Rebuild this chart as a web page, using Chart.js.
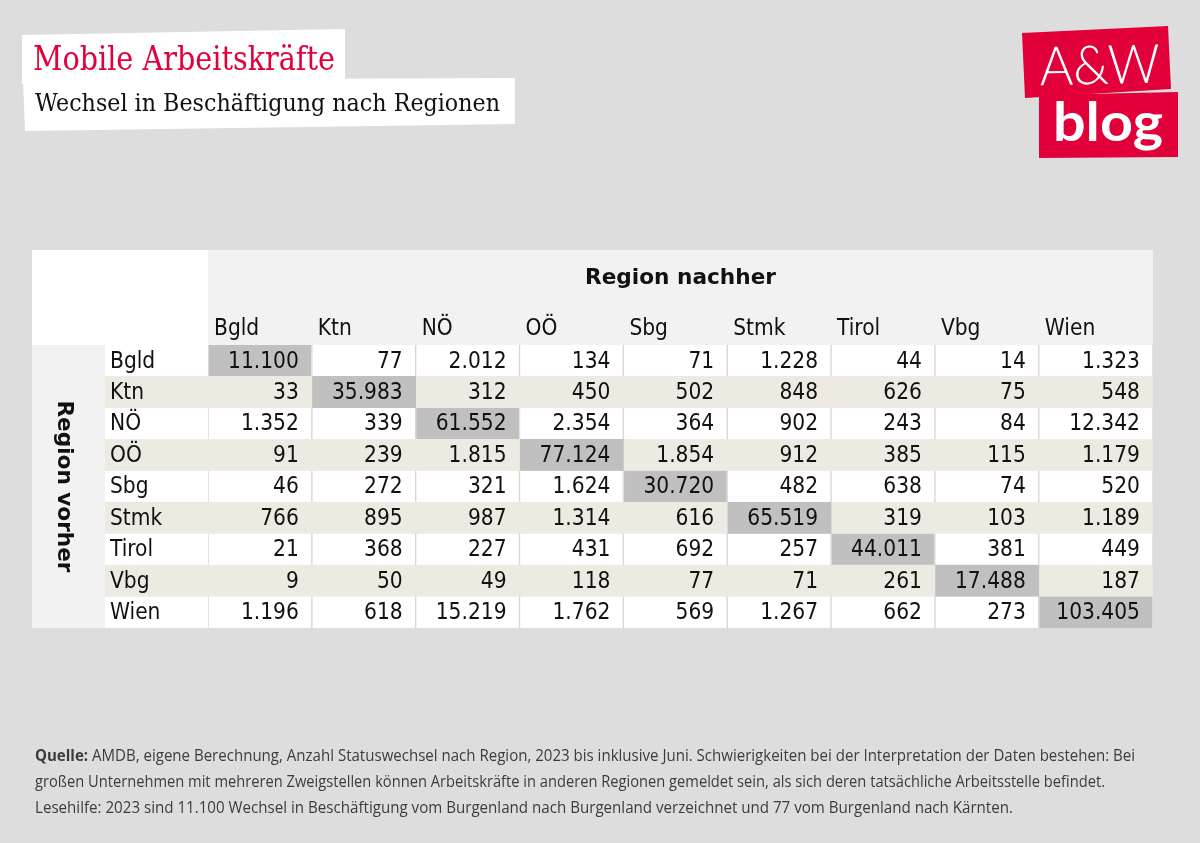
<!DOCTYPE html>
<html><head><meta charset="utf-8">
<script src="https://cdn.jsdelivr.net/npm/chart.js@4.4.1/dist/chart.umd.min.js"></script>
<style>html,body{margin:0;padding:0;background:#dddddd;}#wrap{position:relative;width:1200px;height:843px;}</style>
</head><body><div id="wrap"><canvas id="c"></canvas></div>
<script>
// ---- Data ----
const regionsBefore = ['Bgld','Ktn','NÖ','OÖ','Sbg','Stmk','Tirol','Vbg','Wien'];
const regionsAfter  = ['Bgld','Ktn','NÖ','OÖ','Sbg','Stmk','Tirol','Vbg','Wien'];
const fromBgld  = [11100, 77, 2012, 134, 71, 1228, 44, 14, 1323];
const fromKtn   = [33, 35983, 312, 450, 502, 848, 626, 75, 548];
const fromNOe   = [1352, 339, 61552, 2354, 364, 902, 243, 84, 12342];
const fromOOe   = [91, 239, 1815, 77124, 1854, 912, 385, 115, 1179];
const fromSbg   = [46, 272, 321, 1624, 30720, 482, 638, 74, 520];
const fromStmk  = [766, 895, 987, 1314, 616, 65519, 319, 103, 1189];
const fromTirol = [21, 368, 227, 431, 692, 257, 44011, 381, 449];
const fromVbg   = [9, 50, 49, 118, 77, 71, 261, 17488, 187];
const fromWien  = [1196, 618, 15219, 1762, 569, 1267, 662, 273, 103405];
const matrix = [fromBgld, fromKtn, fromNOe, fromOOe, fromSbg, fromStmk, fromTirol, fromVbg, fromWien];

const titleText = 'Mobile Arbeitskräfte';
const subtitleText = 'Wechsel in Beschäftigung nach Regionen';
const colHeader = 'Region nachher';
const rowHeader = 'Region vorher';
const footerBold = 'Quelle:';
const footerLines = [
  ' AMDB, eigene Berechnung, Anzahl Statuswechsel nach Region, 2023 bis inklusive Juni. Schwierigkeiten bei der Interpretation der Daten bestehen: Bei',
  'großen Unternehmen mit mehreren Zweigstellen können Arbeitskräfte in anderen Regionen gemeldet sein, als sich deren tatsächliche Arbeitsstelle befindet.',
  'Lesehilfe: 2023 sind 11.100 Wechsel in Beschäftigung vom Burgenland nach Burgenland verzeichnet und 77 vom Burgenland nach Kärnten.'
];

// ---- Layout / style ----
const RED = '#e2003b';
const BEIGE = '#edeae2';
const DIAG = '#c0c0c0';
const HEAD = '#f2f2f2';
const LINE = '#d6d6d6';
const TFONT = '"DejaVu Sans Condensed","DejaVu Sans",sans-serif';
const colWeights = regionsAfter.map((_, i) => i === regionsAfter.length - 1 ? 1.1 : 1);
const colEdges = [0];
colWeights.forEach(w => colEdges.push(colEdges[colEdges.length - 1] + w));

function fmt(n){ return String(n).replace(/\B(?=(\d{3})+(?!\d))/g, '.'); }

function fitText(ctx, text, x, y, width, font, align){
  ctx.save();
  ctx.font = font;
  const w = ctx.measureText(text).width;
  const s = width / w;
  ctx.translate(x, y);
  ctx.scale(s, 1);
  ctx.textAlign = align || 'left';
  ctx.fillText(text, 0, 0);
  ctx.restore();
}

function poly(ctx, pts, color){
  ctx.beginPath();
  ctx.moveTo(pts[0][0], pts[0][1]);
  for (let i = 1; i < pts.length; i++) ctx.lineTo(pts[i][0], pts[i][1]);
  ctx.closePath();
  ctx.fillStyle = color;
  ctx.fill();
}

const decor = {
  id: 'decor',
  beforeDraw(chart){
    const ctx = chart.ctx;
    const a = chart.chartArea;
    const y = chart.scales.y;
    ctx.save();
    ctx.fillStyle = '#dddddd';
    ctx.fillRect(0, 0, chart.width, chart.height);
    // title boxes
    poly(ctx, [[22,35],[345,29],[345,84],[22,84]], '#ffffff');
    poly(ctx, [[23,80],[515,78],[515,124],[25,131]], '#ffffff');
    // logo boxes
    poly(ctx, [[1022,33],[1168,26],[1171,89],[1025,98]], RED);
    poly(ctx, [[1039,95],[1178,92],[1178,157],[1039,158]], RED);
    // table frame
    const tableLeft = 32, labelLeft = 105, headTop = 250;
    ctx.fillStyle = '#ffffff';
    ctx.fillRect(tableLeft, headTop, a.left - tableLeft, a.top - headTop);
    ctx.fillStyle = HEAD;
    ctx.fillRect(a.left, headTop, a.right - a.left, a.top - headTop);
    ctx.fillRect(tableLeft, a.top, labelLeft - tableLeft, a.bottom - a.top);
    regionsBefore.forEach((r, i) => {
      const top = y.getPixelForValue(i - 0.5), bot = y.getPixelForValue(i + 0.5);
      ctx.fillStyle = i % 2 ? BEIGE : '#ffffff';
      ctx.fillRect(labelLeft, top, a.left - labelLeft, bot - top);
    });
    ctx.restore();
  },
  afterDraw(chart){
    const ctx = chart.ctx;
    const a = chart.chartArea;
    const x = chart.scales.x, y = chart.scales.y;
    ctx.save();
    ctx.textBaseline = 'middle';
    ctx.fillStyle = '#111111';
    // values
    ctx.font = '22.5px ' + TFONT;
    ctx.textAlign = 'right';
    matrix.forEach((row, ri) => {
      const py = y.getPixelForValue(ri) + 1;
      row.forEach((v, ci) => {
        ctx.fillText(fmt(v), x.getPixelForValue(colEdges[ci + 1]) - 13, py);
      });
    });
    // row labels
    ctx.textAlign = 'left';
    regionsBefore.forEach((r, ri) => ctx.fillText(r, 110, y.getPixelForValue(ri) + 1));
    // column labels
    regionsAfter.forEach((c, ci) => ctx.fillText(c, x.getPixelForValue(colEdges[ci]) + 6, a.top - 16));
    // headers
    ctx.textBaseline = 'alphabetic';
    fitText(ctx, colHeader, (a.left + a.right) / 2, 284, 191, 'bold 22px ' + TFONT, 'center');
    ctx.save();
    ctx.translate(58, (a.top + a.bottom) / 2);
    ctx.rotate(Math.PI / 2);
    fitText(ctx, rowHeader, 0, 0, 172, 'bold 21px ' + TFONT, 'center');
    ctx.restore();
    // title
    ctx.fillStyle = RED;
    fitText(ctx, titleText, 33, 70, 302, '33px "DejaVu Serif",serif');
    ctx.fillStyle = '#111111';
    fitText(ctx, subtitleText, 35, 111, 465, '24.5px "DejaVu Serif",serif');
    // logo
    ctx.fillStyle = '#ffffff';
    ctx.save();
    ctx.translate(1100, 84); ctx.rotate(-0.02);
    fitText(ctx, 'A&W', 0, 0, 120, '300 54px "Lato","Open Sans",sans-serif', 'center');
    ctx.restore();
    fitText(ctx, 'blog', 1108, 141, 110, 'bold 53px "Lato","Open Sans",sans-serif', 'center');
    // footer
    ctx.fillStyle = '#3c3c3c';
    const ffont = '16px "Open Sans",sans-serif';
    const fbold = 'bold 16px "Open Sans",sans-serif';
    ctx.font = fbold; const wb = ctx.measureText(footerBold).width;
    ctx.font = ffont; const w1 = ctx.measureText(footerLines[0]).width;
    const s1 = 1100 / (wb + w1);
    ctx.save(); ctx.translate(35, 761); ctx.scale(s1, 1);
    ctx.font = fbold; ctx.fillText(footerBold, 0, 0);
    ctx.font = ffont; ctx.fillText(footerLines[0], wb, 0);
    ctx.restore();
    fitText(ctx, footerLines[1], 35, 787, 1070, ffont);
    fitText(ctx, footerLines[2], 35, 813, 978, ffont);
    ctx.restore();
  }
};

const datasets = regionsAfter.map((col, ci) => ({
  label: col,
  data: regionsBefore.map(() => [colEdges[ci], colEdges[ci + 1]]),
  backgroundColor: c => c.dataIndex === c.datasetIndex ? DIAG : (c.dataIndex % 2 ? BEIGE : '#ffffff'),
  borderColor: c => c.dataIndex === c.datasetIndex ? '#e6e6e6' : LINE,
  borderWidth: c => (c.dataIndex % 2) ? 0 : {left: 1, right: 1, top: 0, bottom: 0},
  borderSkipped: false,
  barPercentage: 1,
  categoryPercentage: 1
}));

new Chart(document.getElementById('c'), {
  type: 'bar',
  data: { labels: regionsBefore, datasets },
  options: {
    indexAxis: 'y',
    responsive: true,
    maintainAspectRatio: false,
    animation: false,
    layout: { padding: { left: 208, right: 47, top: 345, bottom: 215 } },
    scales: {
      x: { type: 'linear', min: 0, max: colEdges[colEdges.length - 1], display: false, stacked: false },
      y: { type: 'category', display: false, stacked: true, offset: true }
    },
    plugins: { legend: { display: false }, tooltip: { enabled: false } }
  },
  plugins: [decor]
});
</script>
</body></html>
